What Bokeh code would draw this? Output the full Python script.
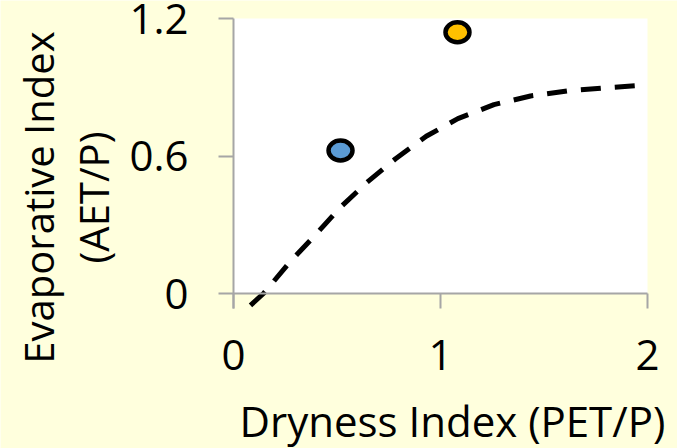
import math
from bokeh.plotting import figure
from bokeh.models import Range1d, BoxAnnotation, FixedTicker, ColumnDataSource
from bokeh.core.properties import value
from bokeh.embed import file_html
from bokeh.resources import INLINE

# Data
curve_x = [0.082, 0.146, 0.272, 0.396, 0.514, 0.646, 0.783, 0.931, 1.084, 1.258, 1.435, 1.612, 1.789, 1.969]
curve_y = [-0.052, 0.001, 0.137, 0.256, 0.374, 0.486, 0.588, 0.686, 0.763, 0.824, 0.862, 0.884, 0.897, 0.908]
pts_x = [0.517, 1.082]
pts_y = [0.624, 1.140]
pts_color = ["#5B9BD5", "#FFC000"]
x_ticks = [0, 1, 2]
x_tick_labels = ["0", "1", "2"]
y_ticks = [0, 0.6, 1.2]
y_tick_labels = ["0", "0.6", "1.2"]
x_title = "Dryness Index (PET/P)"
y_title_lines = ["Evaporative Index", "(AET/P)"]

BG = "#FFFFDD"
AX = "#A6A6A6"
FONT = "Open Sans"
W, H = 677, 448
# plot-area placement (pixels) of the data box 0..2 x 0..1.2
PX0, PX1, PY0, PY1 = 233, 647, 293, 18
sx = (PX1 - PX0) / 2.0
sy = (PY0 - PY1) / 1.2

def dx(px):
    return (px - PX0) / sx

def dy(py):
    return (PY0 - py) / sy

p = figure(width=W, height=H, output_backend="svg", toolbar_location=None,
           x_range=Range1d(dx(0), dx(W)), y_range=Range1d(dy(H), dy(0)),
           min_border_left=0, min_border_right=0, min_border_top=0, min_border_bottom=0)
p.title.visible = False
p.background_fill_color = BG
p.border_fill_color = BG
p.outline_line_color = None
p.grid.visible = False

p.add_layout(BoxAnnotation(left=0, right=2, bottom=0, top=1.2, fill_color="white", fill_alpha=1,
                           line_color=None, level="underlay"))

p.line(curve_x, curve_y, line_color="black", line_width=5, line_dash="20 14")

src = ColumnDataSource(dict(x=pts_x, y=pts_y, c=pts_color))
p.ellipse(x="x", y="y", width=24, height=20, width_units="screen", height_units="screen",
          fill_color="c", line_color="black", line_width=4.5, source=src)

xa = p.xaxis[0]
xa.fixed_location = 0
xa.bounds = (0, 2)
xa.ticker = FixedTicker(ticks=x_ticks)
xa.major_label_overrides = {t: l for t, l in zip(x_ticks, x_tick_labels)}
xa.major_label_standoff = 31

ya = p.yaxis[0]
ya.fixed_location = 0
ya.bounds = (dy(PY0 + 15), 1.2)
ya.ticker = FixedTicker(ticks=y_ticks)
ya.major_label_overrides = {t: l for t, l in zip(y_ticks, y_tick_labels)}
ya.major_label_standoff = 30
ya.major_label_orientation = "horizontal"

for ax in (xa, ya):
    ax.axis_line_color = AX
    ax.axis_line_width = 2
    ax.major_tick_line_color = AX
    ax.major_tick_line_width = 2
    ax.major_tick_out = 15
    ax.major_tick_in = 0
    ax.minor_tick_line_color = None
    ax.major_label_text_font = FONT
    ax.major_label_text_font_size = "42px"
    ax.major_label_text_color = "black"

# axis titles
p.text(x=[dx(239)], y=[dy(420)], text=[x_title], text_font=value(FONT),
       text_font_size=value("42px"), text_align="left", text_baseline="alphabetic",
       text_color="black")
p.text(x=[dx(38), dx(93)], y=[dy(197), dy(197)], text=y_title_lines, angle=math.pi / 2,
       text_font=value(FONT), text_font_size=value("40px"), text_align="center",
       text_baseline="alphabetic", text_color="black")

open("out.html", "w").write(file_html(p, INLINE))
